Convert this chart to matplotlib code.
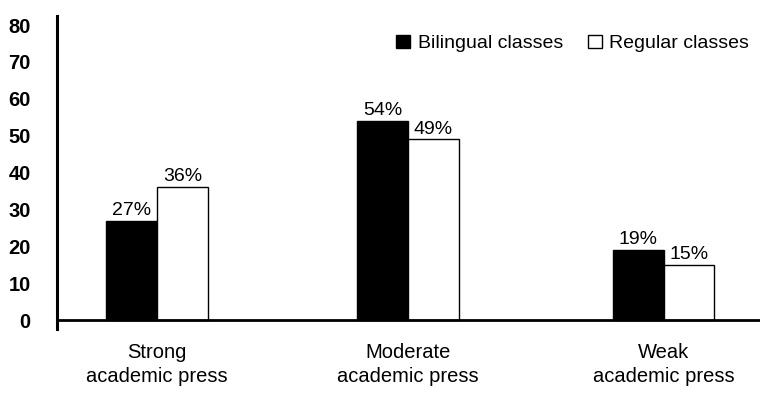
import numpy as np
import matplotlib
matplotlib.use('Agg')
from matplotlib import pyplot as plt
from matplotlib.patches import Patch

plt.rcParams['font.family'] = ['Liberation Sans', 'DejaVu Sans']

categories = ['Strong\nacademic press', 'Moderate\nacademic press', 'Weak\nacademic press']
bilingual = [27, 54, 19]
regular = [36, 49, 15]
yticks = [0, 10, 20, 30, 40, 50, 60, 70, 80]

# group centres, spaced a little unevenly like the printed figure
x = np.array([0.0, 0.99, 2.0])
width = 0.2

fig = plt.figure(figsize=(7.6, 3.94), dpi=100)
ax = fig.add_axes([0.075, 0.165, 0.925, 0.794])

ax.bar(x - width / 2, bilingual, width, color='black', edgecolor='black', linewidth=1)
ax.bar(x + width / 2, regular, width, color='white', edgecolor='black', linewidth=1)

for xi, v in zip(x - width / 2, bilingual):
    ax.text(xi, v + 0.5, f'{v}%', ha='center', va='bottom', fontsize=14)
for xi, v in zip(x + width / 2, regular):
    ax.text(xi, v + 0.5, f'{v}%', ha='center', va='bottom', fontsize=14)

ax.set_xlim(-0.395, 2.38)
ax.set_ylim(-2.4, 82.4)
ax.axhline(0, color='black', linewidth=2)

ax.set_yticks(yticks)
ax.set_yticklabels([str(t) for t in yticks], fontsize=14.5, fontweight='bold')
ax.tick_params(axis='y', length=0, pad=19)
ax.set_xticks(x)
ax.set_xticklabels(categories, fontsize=14.5, linespacing=1.35)
ax.tick_params(axis='x', length=0, pad=10)

for side in ['top', 'right', 'bottom']:
    ax.spines[side].set_visible(False)
ax.spines['left'].set_linewidth(2.2)

handles = [Patch(facecolor='black', edgecolor='black', label='Bilingual classes'),
           Patch(facecolor='white', edgecolor='black', label='Regular classes')]
ax.legend(handles=handles, loc='upper right', bbox_to_anchor=(1.0, 0.975), ncol=2,
          frameon=False, fontsize=14, handlelength=0.7, handleheight=0.7,
          handletextpad=0.4, columnspacing=1.3, borderaxespad=0.15)

fig.savefig('out.png', dpi=100)
